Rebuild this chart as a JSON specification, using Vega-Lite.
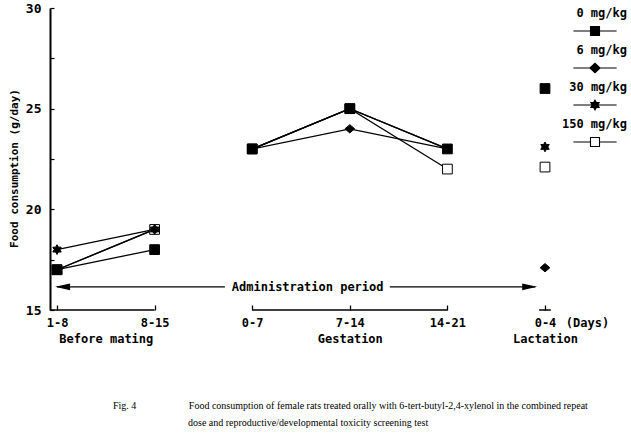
{
  "$schema": "https://vega.github.io/schema/vega-lite/v6.json",
  "width": 560,
  "height": 302,
  "autosize": "none",
  "padding": {"left": 50, "top": 8, "right": 21, "bottom": 138},
  "background": "white",
  "config": {
    "view": {"stroke": null},
    "font": "DejaVu Sans Mono",
    "axis": {
      "labelFont": "DejaVu Sans Mono",
      "labelFontSize": 12,
      "labelFontWeight": "bold",
      "labelColor": "black",
      "titleFont": "DejaVu Sans Mono",
      "titleColor": "black",
      "domainColor": "black",
      "tickColor": "black",
      "grid": false
    }
  },
  "title": {
    "text": [
      "Fig. 4\u2003\u2003\u2003\u2003\u2003\u00a0Food consumption of female rats treated orally with 6-tert-butyl-2,4-xylenol in the combined repeat",
      "\u200b\u2003\u2003\u2003\u2003\u2003\u2003\u2003\u00a0\u00a0dose and reproductive/developmental toxicity screening test"
    ],
    "orient": "bottom",
    "anchor": "start",
    "frame": "group",
    "dx": 63,
    "offset": 57,
    "font": "Liberation Serif",
    "fontSize": 10,
    "fontWeight": "normal",
    "color": "black",
    "lineHeight": 17,
    "align": "left"
  },
  "datasets": {
    "food": [
      {"dose": "150 mg/kg", "stage": "Before mating", "period": "1-8", "period_index": 0, "value": 17.0},
      {"dose": "150 mg/kg", "stage": "Before mating", "period": "8-15", "period_index": 1, "value": 19.0},
      {"dose": "150 mg/kg", "stage": "Gestation", "period": "0-7", "period_index": 2, "value": 23.0},
      {"dose": "150 mg/kg", "stage": "Gestation", "period": "7-14", "period_index": 3, "value": 25.0},
      {"dose": "150 mg/kg", "stage": "Gestation", "period": "14-21", "period_index": 4, "value": 22.0},
      {"dose": "150 mg/kg", "stage": "Lactation", "period": "0-4", "period_index": 5, "value": 22.1},
      {"dose": "30 mg/kg", "stage": "Before mating", "period": "1-8", "period_index": 0, "value": 18.0},
      {"dose": "30 mg/kg", "stage": "Before mating", "period": "8-15", "period_index": 1, "value": 19.0},
      {"dose": "30 mg/kg", "stage": "Gestation", "period": "0-7", "period_index": 2, "value": 23.0},
      {"dose": "30 mg/kg", "stage": "Gestation", "period": "7-14", "period_index": 3, "value": 25.0},
      {"dose": "30 mg/kg", "stage": "Gestation", "period": "14-21", "period_index": 4, "value": 23.0},
      {"dose": "30 mg/kg", "stage": "Lactation", "period": "0-4", "period_index": 5, "value": 23.1},
      {"dose": "6 mg/kg", "stage": "Before mating", "period": "1-8", "period_index": 0, "value": 17.0},
      {"dose": "6 mg/kg", "stage": "Before mating", "period": "8-15", "period_index": 1, "value": 19.0},
      {"dose": "6 mg/kg", "stage": "Gestation", "period": "0-7", "period_index": 2, "value": 23.0},
      {"dose": "6 mg/kg", "stage": "Gestation", "period": "7-14", "period_index": 3, "value": 24.0},
      {"dose": "6 mg/kg", "stage": "Gestation", "period": "14-21", "period_index": 4, "value": 23.0},
      {"dose": "6 mg/kg", "stage": "Lactation", "period": "0-4", "period_index": 5, "value": 17.1},
      {"dose": "0 mg/kg", "stage": "Before mating", "period": "1-8", "period_index": 0, "value": 17.0},
      {"dose": "0 mg/kg", "stage": "Before mating", "period": "8-15", "period_index": 1, "value": 18.0},
      {"dose": "0 mg/kg", "stage": "Gestation", "period": "0-7", "period_index": 2, "value": 23.0},
      {"dose": "0 mg/kg", "stage": "Gestation", "period": "7-14", "period_index": 3, "value": 25.0},
      {"dose": "0 mg/kg", "stage": "Gestation", "period": "14-21", "period_index": 4, "value": 23.0},
      {"dose": "0 mg/kg", "stage": "Lactation", "period": "0-4", "period_index": 5, "value": 26.0}
    ],
    "segments": [
      {"stage": "Before mating", "start": -0.072, "end": 1},
      {"stage": "Gestation", "start": 2, "end": 4},
      {"stage": "Lactation", "start": 4.94, "end": 5.06}
    ],
    "arrow_lines": [
      {"part": "left", "from": 0.0, "to": 1.72, "level": 16.15},
      {"part": "right", "from": 3.41, "to": 4.9, "level": 16.15}
    ],
    "arrow_heads": [
      {"direction": "left", "tip": -0.02, "level": 16.15},
      {"direction": "right", "tip": 4.92, "level": 16.15}
    ],
    "arrow_text": [
      {"label": "Administration period", "center": 2.568, "level": 16.15}
    ]
  },
  "layer": [
    {
      "data": {"name": "segments"},
      "mark": {"type": "rule", "stroke": "black", "strokeWidth": 1.5},
      "encoding": {
        "x": {"field": "start", "type": "quantitative", "scale": {"domain": [-0.072, 5.666], "nice": false, "zero": false},
          "axis": {
            "title": null,
            "values": [0, 0.5, 1, 2, 3, 4, 5, 5.43],
            "domain": false,
            "tickSize": -5,
            "tickWidth": 1.3,
            "tickOpacity": {"condition": {"test": "datum.value == 0.5 || datum.value > 5.2", "value": 0}, "value": 1},
            "labelPadding": 12,
            "labelOverlap": false,
            "labelFlush": false,
            "labelBound": false,
            "labelLineHeight": 16,
            "labelExpr": "datum.value == 0 ? '1-8' : datum.value == 0.5 ? ['', 'Before mating'] : datum.value == 1 ? '8-15' : datum.value == 2 ? '0-7' : datum.value == 3 ? ['7-14', 'Gestation'] : datum.value == 4 ? '14-21' : datum.value == 5 ? ['0-4', 'Lactation'] : '(Days)'"
          }
        },
        "x2": {"field": "end"},
        "y": {"datum": 15, "type": "quantitative", "scale": {"domain": [15, 30], "nice": false, "zero": false},
          "axis": {
            "title": "Food consumption (g/day)",
            "titleFontSize": 11,
            "titleFontWeight": "bold",
            "titleX": -36,
            "titleY": 160,
            "titleAngle": -90,
            "titleBaseline": "middle",
            "titleAlign": "center",
            "values": [15, 17.5, 20, 22.5, 25, 27.5, 30],
            "labelExpr": "datum.value % 5 == 0 ? datum.label : ''",
            "labelFontSize": 13,
            "domainWidth": 2,
            "tickSize": -4,
            "tickWidth": 1.2,
            "labelPadding": 13,
            "labelOverlap": false,
            "labelFlush": false
          }
        }
      }
    },
    {
      "data": {"name": "food"},
      "transform": [{"filter": "datum.period_index < 5"}],
      "mark": {"type": "line", "stroke": "black", "strokeWidth": 1.3},
      "encoding": {
        "x": {"field": "period_index", "type": "quantitative", "scale": {"domain": [-0.072, 5.666], "nice": false, "zero": false}},
        "y": {"field": "value", "type": "quantitative", "scale": {"domain": [15, 30], "nice": false, "zero": false}},
        "detail": [{"field": "dose"}, {"field": "stage"}]
      }
    },
    {
      "data": {"name": "food"},
      "mark": {"type": "point", "filled": true, "stroke": "black", "strokeWidth": 1, "size": 95, "opacity": 1},
      "encoding": {
        "x": {"field": "period_index", "type": "quantitative", "scale": {"domain": [-0.072, 5.666], "nice": false, "zero": false}},
        "y": {"field": "value", "type": "quantitative", "scale": {"domain": [15, 30], "nice": false, "zero": false}},
        "shape": {"field": "dose", "type": "nominal", "legend": null,
          "scale": {"domain": ["0 mg/kg", "6 mg/kg", "30 mg/kg", "150 mg/kg"],
            "range": ["square", "M-1,0L0,-0.85L1,0L0,0.85Z", "M0,-1L0.289,-0.5L0.866,-0.5L0.577,0L0.866,0.5L0.289,0.5L0,1L-0.289,0.5L-0.866,0.5L-0.577,0L-0.866,-0.5L-0.289,-0.5Z", "square"]}},
        "fill": {"field": "dose", "type": "nominal", "legend": null,
          "scale": {"domain": ["0 mg/kg", "6 mg/kg", "30 mg/kg", "150 mg/kg"], "range": ["black", "black", "black", "white"]}}
      }
    },
    {
      "data": {"name": "food"},
      "transform": [{"filter": "false"}],
      "mark": {"type": "point", "filled": true, "strokeWidth": 1.1, "size": 144, "opacity": 1},
      "encoding": {
        "x": {"field": "period_index", "type": "quantitative", "scale": {"domain": [-0.072, 5.666], "nice": false, "zero": false}},
        "y": {"field": "value", "type": "quantitative", "scale": {"domain": [15, 30], "nice": false, "zero": false}},
        "shape": {"field": "dose", "type": "nominal",
          "scale": {"domain": ["0 mg/kg", "6 mg/kg", "30 mg/kg", "150 mg/kg"],
            "range": [
              "M-3.6,1.83H3.6M-0.75,1.08H0.75V2.58H-0.75Z",
              "M-3.6,1.83H3.6M-0.85,1.83L0,1.03L0.85,1.83L0,2.63Z",
              "M-3.6,1.83H3.6M0,1.03L0.231,1.43L0.693,1.43L0.462,1.83L0.693,2.23L0.231,2.23L0,2.63L-0.231,2.23L-0.693,2.23L-0.462,1.83L-0.693,1.43L-0.231,1.43Z",
              "M-3.6,1.83H-0.75M0.75,1.83H3.6M-0.75,1.08H0.75V2.58H-0.75Z"
            ]},
          "legend": {
            "title": null, "orient": "none", "legendX": 538, "legendY": 5, "padding": 0,
            "symbolSize": 144, "symbolStrokeWidth": 1.1, "symbolOpacity": 1,
            "labelAlign": "right", "labelBaseline": "bottom", "labelOffset": 25, "labelFont": "DejaVu Sans Mono", "labelFontSize": 12,
            "labelFontWeight": "bold", "labelColor": "black", "rowPadding": 6
          }
        },
        "fill": {"field": "dose", "type": "nominal",
          "scale": {"domain": ["0 mg/kg", "6 mg/kg", "30 mg/kg", "150 mg/kg"], "range": ["black", "black", "black", "white"]},
          "legend": {
            "title": null, "orient": "none", "legendX": 538, "legendY": 5, "padding": 0,
            "symbolSize": 144, "symbolStrokeWidth": 1.1, "symbolOpacity": 1,
            "labelAlign": "right", "labelBaseline": "bottom", "labelOffset": 25, "labelFont": "DejaVu Sans Mono", "labelFontSize": 12,
            "labelFontWeight": "bold", "labelColor": "black", "rowPadding": 6
          }
        },
        "stroke": {"field": "dose", "type": "nominal",
          "scale": {"domain": ["0 mg/kg", "6 mg/kg", "30 mg/kg", "150 mg/kg"], "range": ["black", "black", "black", "black"]},
          "legend": {
            "title": null, "orient": "none", "legendX": 538, "legendY": 5, "padding": 0,
            "symbolSize": 144, "symbolStrokeWidth": 1.1, "symbolOpacity": 1,
            "labelAlign": "right", "labelBaseline": "bottom", "labelOffset": 25, "labelFont": "DejaVu Sans Mono", "labelFontSize": 12,
            "labelFontWeight": "bold", "labelColor": "black", "rowPadding": 6
          }
        }
      }
    },
    {
      "data": {"name": "arrow_lines"},
      "mark": {"type": "rule", "stroke": "black", "strokeWidth": 1.3},
      "encoding": {
        "x": {"field": "from", "type": "quantitative", "scale": {"domain": [-0.072, 5.666], "nice": false, "zero": false}},
        "x2": {"field": "to"},
        "y": {"field": "level", "type": "quantitative", "scale": {"domain": [15, 30], "nice": false, "zero": false}}
      }
    },
    {
      "data": {"name": "arrow_heads"},
      "mark": {"type": "point", "filled": true, "size": 225, "opacity": 1},
      "encoding": {
        "x": {"field": "tip", "type": "quantitative", "scale": {"domain": [-0.072, 5.666], "nice": false, "zero": false}},
        "y": {"field": "level", "type": "quantitative", "scale": {"domain": [15, 30], "nice": false, "zero": false}},
        "shape": {"field": "direction", "type": "nominal", "legend": null,
          "scale": {"domain": ["left", "right"], "range": ["M0,0L2,-0.45L2,0.45Z", "M0,0L-2,-0.45L-2,0.45Z"]}},
        "color": {"value": "black"}
      }
    },
    {
      "data": {"name": "arrow_text"},
      "mark": {"type": "text", "font": "DejaVu Sans Mono", "fontSize": 12, "fontWeight": "bold", "color": "black", "baseline": "middle", "align": "center"},
      "encoding": {
        "x": {"field": "center", "type": "quantitative", "scale": {"domain": [-0.072, 5.666], "nice": false, "zero": false}},
        "y": {"field": "level", "type": "quantitative", "scale": {"domain": [15, 30], "nice": false, "zero": false}},
        "text": {"field": "label"}
      }
    }
  ],
  "resolve": {"scale": {"shape": "independent", "fill": "independent", "stroke": "independent"}}
}
